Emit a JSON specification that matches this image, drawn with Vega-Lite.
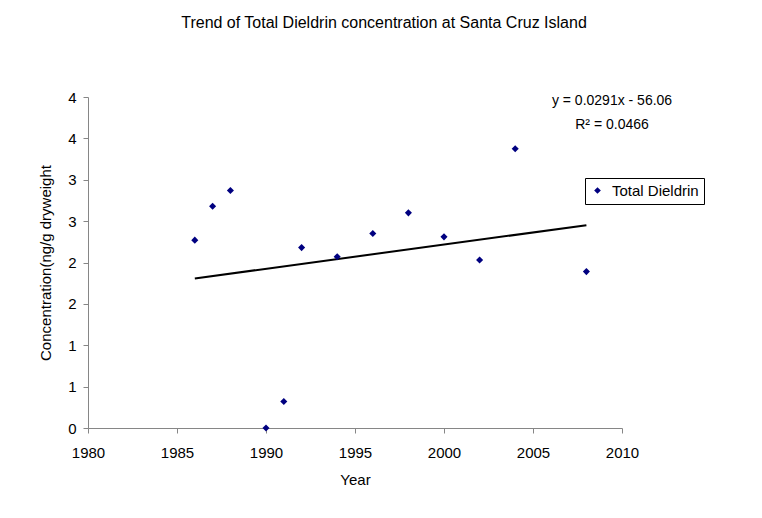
{
  "$schema": "https://vega.github.io/schema/vega-lite/v6.json",
  "width": 534,
  "height": 331,
  "autosize": {"type": "none"},
  "padding": {"left": 88, "top": 97, "right": 140, "bottom": 90},
  "background": "white",
  "config": {
    "font": "Liberation Sans",
    "view": {"stroke": null},
    "axis": {
      "domainColor": "#868686",
      "tickColor": "#868686",
      "tickSize": 5,
      "labelColor": "black",
      "titleColor": "black",
      "labelFontSize": 15,
      "titleFontSize": 15,
      "titleFontWeight": "normal",
      "labelFlush": false,
      "labelOverlap": false,
      "grid": false
    }
  },
  "title": {
    "text": "Trend of Total Dieldrin concentration at Santa Cruz Island",
    "fontSize": 16,
    "fontWeight": "normal",
    "color": "black",
    "frame": "group",
    "anchor": "middle",
    "offset": 59,
    "dx": 29
  },
  "data": {
    "values": [
      {"year": 1986, "value": 2.27},
      {"year": 1987, "value": 2.68},
      {"year": 1988, "value": 2.87},
      {"year": 1990, "value": 0},
      {"year": 1991, "value": 0.32},
      {"year": 1992, "value": 2.18},
      {"year": 1994, "value": 2.07},
      {"year": 1996, "value": 2.35},
      {"year": 1998, "value": 2.6},
      {"year": 2000, "value": 2.31},
      {"year": 2002, "value": 2.03},
      {"year": 2004, "value": 3.375},
      {"year": 2008, "value": 1.89}
    ]
  },
  "layer": [
    {
      "transform": [{"regression": "value", "on": "year"}],
      "mark": {"type": "line", "color": "black", "strokeWidth": 2},
      "encoding": {
        "x": {"field": "year", "type": "quantitative", "scale": {"domain": [1980, 2010]}},
        "y": {"field": "value", "type": "quantitative", "scale": {"domain": [0, 4]}}
      }
    },
    {
      "mark": {"type": "point", "shape": "diamond", "filled": true, "size": 50, "opacity": 1},
      "encoding": {
        "x": {
          "field": "year",
          "type": "quantitative",
          "scale": {"domain": [1980, 2010], "nice": false},
          "axis": {
            "title": "Year",
            "values": [1980, 1985, 1990, 1995, 2000, 2005, 2010],
            "format": "d",
            "labelPadding": 12,
            "titlePadding": 12
          }
        },
        "y": {
          "field": "value",
          "type": "quantitative",
          "scale": {"domain": [0, 4], "nice": false},
          "axis": {
            "title": "Concentration(ng/g dryweight",
            "values": [0, 0.5, 1, 1.5, 2, 2.5, 3, 3.5, 4],
            "format": ".0f",
            "labelPadding": 7,
            "titlePadding": 14
          }
        },
        "color": {
          "datum": "Total Dieldrin",
          "type": "nominal",
          "scale": {"range": ["#000080"]},
          "legend": {
            "title": null,
            "orient": "none",
            "legendX": 497,
            "legendY": 81,
            "strokeColor": "black",
            "fillColor": "white",
            "padding": 5,
            "symbolType": "diamond",
            "symbolSize": 45,
            "labelFontSize": 15,
            "labelColor": "black",
            "labelOffset": 7
          }
        }
      }
    },
    {
      "data": {"values": [{"eq": ["y = 0.0291x - 56.06", "R² = 0.0466"]}]},
      "mark": {"type": "text", "align": "center", "baseline": "alphabetic", "fontSize": 14, "lineHeight": 24, "color": "black"},
      "encoding": {
        "x": {"datum": 2009.44, "type": "quantitative"},
        "y": {"datum": 3.9, "type": "quantitative"},
        "text": {"field": "eq"}
      }
    }
  ]
}
